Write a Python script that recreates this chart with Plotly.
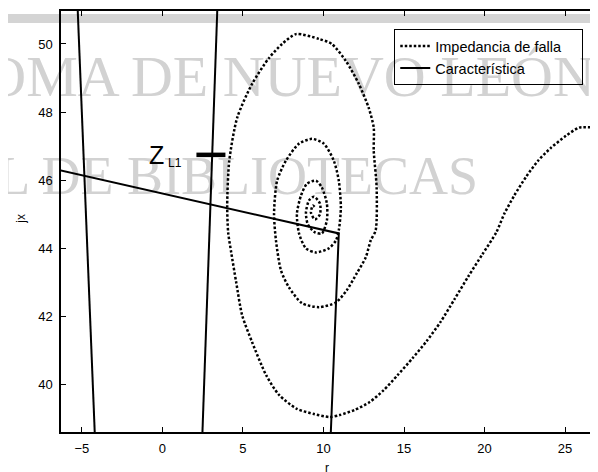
import plotly.graph_objects as go

# Impedancia de falla: espiral (r, jx)
falla_r = [26.86, 25.87, 25.06, 24.13, 23.33, 22.59, 21.84, 21.23, 20.73, 19.86,
           19.00, 18.13, 17.26, 16.40, 15.53, 14.60, 13.74, 12.87, 11.94, 11.01,
           10.40, 9.41, 8.35, 7.24, 6.44, 5.57, 4.95, 4.58, 4.27, 4.08,
           4.02, 4.15, 4.64, 5.57, 6.62, 7.43, 8.29, 9.72, 10.52, 11.39,
           12.19, 12.81, 13.12, 13.12, 13.30, 13.24, 12.93, 12.62, 12.07, 11.45,
           10.77, 9.72, 8.66, 7.86, 7.36, 7.05, 6.93, 7.12, 7.67, 8.48,
           9.28, 10.02, 10.64, 10.95, 11.08, 10.95, 10.77, 10.33, 9.53, 8.91,
           8.48, 8.35, 8.60, 8.97, 9.53, 9.90, 10.21, 10.21, 9.90, 9.47,
           9.03, 8.91, 9.10, 9.41, 9.78, 9.78, 9.47, 9.22, 9.34, 9.53]
falla_x = [47.54, 47.54, 47.30, 46.95, 46.57, 46.10, 45.54, 45.01, 44.46, 43.81,
           43.17, 42.49, 41.82, 41.26, 40.76, 40.26, 39.82, 39.47, 39.24, 39.09,
           39.03, 39.12, 39.27, 39.68, 40.26, 41.23, 42.02, 42.99, 43.87, 44.46,
           45.28, 46.57, 47.83, 48.83, 49.59, 50.00, 50.29, 50.15, 50.00, 49.50,
           48.83, 48.12, 47.54, 46.86, 45.78, 44.52, 44.22, 43.72, 43.26, 42.76,
           42.40, 42.26, 42.38, 42.84, 43.34, 44.22, 45.01, 45.98, 46.57, 47.07,
           47.21, 47.07, 46.57, 45.98, 45.19, 44.52, 44.22, 43.99, 43.87, 43.99,
           44.43, 45.01, 45.54, 45.89, 45.98, 45.78, 45.31, 44.81, 44.43, 44.46,
           44.69, 45.04, 45.40, 45.51, 45.31, 44.99, 44.84, 45.04, 45.25, 45.16]

# Caracteristica (tramos separados por None)
carac_r = [-5.28, -4.19, None, 3.42, 2.47, None, -6.6, 10.95, 10.44]
carac_x = [51.2, 38.4, None, 51.2, 38.4, None, 46.31, 44.43, 38.4]

# marca de Z_L1
zl1_r = [2.11, 3.91]
zl1_x = [46.74, 46.74]

x_ticks = [-5, 0, 5, 10, 15, 20, 25]
y_ticks = [40, 42, 44, 46, 48, 50]

pad = "\u00a0" * 4  # un poco de aire a la derecha de la leyenda

fig = go.Figure()

# marca de agua del escaneo (debajo de los datos)
fig.add_trace(go.Scatter(x=[26.85], y=[48.91], mode="text",
                         text=["UNIVERSIDAD AUTÓNOMA DE NUEVO LEÓN"],
                         textposition="middle left", cliponaxis=False,
                         textfont=dict(family="Liberation Serif", size=58, color="#d2d2d2"),
                         showlegend=False, hoverinfo="skip"))
fig.add_trace(go.Scatter(x=[19.6], y=[45.98], mode="text",
                         text=["DIRECCIÓN GENERAL DE BIBLIOTECAS"],
                         textposition="middle left", cliponaxis=False,
                         textfont=dict(family="Liberation Serif", size=54, color="#d2d2d2"),
                         showlegend=False, hoverinfo="skip"))

fig.add_trace(go.Scatter(x=falla_r, y=falla_x, mode="lines", name="Impedancia de falla" + pad,
                         line=dict(color="black", width=2.5, dash="2.5px,2px",
                                   shape="spline", smoothing=0.7)))
fig.add_trace(go.Scatter(x=carac_r, y=carac_x, mode="lines", name="Característica",
                         line=dict(color="black", width=2)))
fig.add_trace(go.Scatter(x=zl1_r, y=zl1_x, mode="lines", showlegend=False,
                         line=dict(color="black", width=4.5), hoverinfo="skip"))

fig.add_annotation(x=-0.37, y=46.74, text="Z", showarrow=False,
                   font=dict(family="Liberation Sans", size=25, color="black"))
fig.add_annotation(x=0.80, y=46.50, text="L1", showarrow=False,
                   font=dict(family="Liberation Sans", size=12, color="black"))

# titulos de ejes
fig.add_annotation(xref="paper", yref="paper", x=-0.0765, y=0.507, text="jx",
                   textangle=-90, showarrow=False, xanchor="center", yanchor="middle",
                   font=dict(family="Liberation Sans", size=12, color="black"))
fig.add_annotation(xref="paper", yref="paper", x=0.498, y=-0.085, text="r",
                   showarrow=False, xanchor="center", yanchor="middle",
                   font=dict(family="Liberation Sans", size=12, color="black"))

# franja gris del escaneo
fig.add_shape(type="rect", xref="paper", yref="paper", x0=-0.2, x1=1.01,
              y0=0.9716, y1=0.993, fillcolor="#d4d4d4", line_width=0, layer="below")

# la pagina deja 8 px de margen en el body: el tamano lo compensa
fig.update_layout(
    width=590, height=464,
    margin=dict(l=53, r=1, t=2, b=40),
    paper_bgcolor="white", plot_bgcolor="white",
    font=dict(family="Liberation Sans", size=13, color="black"),
    legend=dict(x=0.978, y=0.957, xanchor="right", yanchor="top",
                bgcolor="rgba(0,0,0,0)", bordercolor="black", borderwidth=1,
                font=dict(size=14.5), itemwidth=30, tracegroupgap=0),
)
fig.update_xaxes(range=[-6.3, 26.86], tickvals=x_ticks, showgrid=False, zeroline=False,
                 showline=True, linecolor="black", linewidth=1.5, mirror="ticks",
                 ticks="inside", ticklen=5, tickcolor="black", ticklabelstandoff=4)
fig.update_yaxes(range=[38.59, 50.97], tickvals=y_ticks, showgrid=False, zeroline=False,
                 showline=True, linecolor="black", linewidth=1.5, mirror="ticks",
                 ticks="inside", ticklen=5, tickcolor="black", ticklabelstandoff=4)

fig.write_html("out.html")
